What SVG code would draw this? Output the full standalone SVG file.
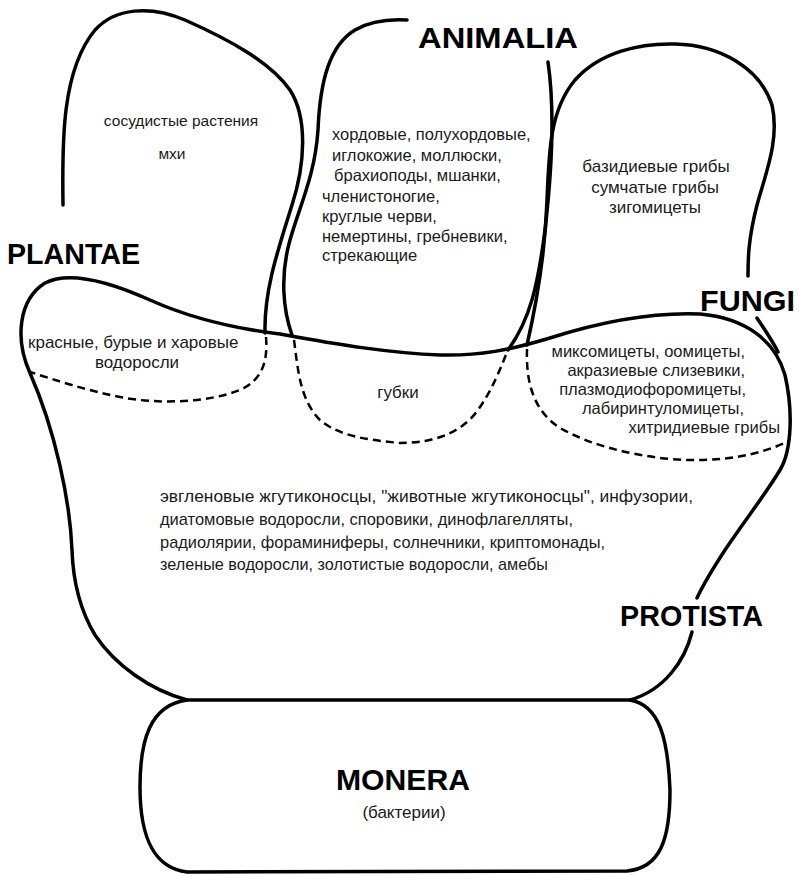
<svg xmlns="http://www.w3.org/2000/svg" width="799" height="875" viewBox="0 0 799 875">
<style>
.ln{fill:none;stroke:#000;stroke-width:3.5;stroke-linecap:round;stroke-linejoin:round}
.ds{fill:none;stroke:#000;stroke-width:2.5;stroke-dasharray:8 5}
.t{font-family:"Liberation Sans",Arial,sans-serif;font-size:17px;fill:#1a1a1a}
.s{font-size:15.5px}
.a{font-size:16.5px}
.f{font-size:16.5px}
.p{font-family:"Liberation Sans",Arial,sans-serif;font-size:17px;fill:#1a1a1a}
.lb{font-family:"Liberation Sans",Arial,sans-serif;font-size:30px;font-weight:bold;fill:#000}
</style>
<rect width="799" height="875" fill="#fff"/>
<g id="plantae">
<path class="ln" d="M63,205 C62,140 62,70 95,30 C115,8 150,5 185,20 C230,40 270,62 290,90 C308,118 305,165 292,205 C278,250 264,290 265,333"/>
<path class="ds" d="M266,337 C268,362 262,380 240,390 C210,402 160,405 120,397 C85,390 55,380 30,372"/>
<text class="lb" x="7" y="264" textLength="133" lengthAdjust="spacingAndGlyphs">PLANTAE</text>
<text class="t s" x="181" y="126" text-anchor="middle">сосудистые растения</text>
<text class="t s" x="172" y="159" text-anchor="middle">мхи</text>
<text class="t" x="28" y="348">красные, бурые и харовые</text>
<text class="t" x="137" y="368" text-anchor="middle">водоросли</text>
</g>
<g id="animalia">
<path class="ln" d="M292,335 C283,310 280,275 290,240 C300,205 315,175 318,130 C320,80 330,45 355,30 C372,20 390,19 407,20"/>
<path class="ln" d="M548,62 C555,110 552,170 545,230 C538,285 530,320 508,350"/>
<path class="ds" d="M294,340 C298,370 300,400 320,420 C340,437 370,440 400,443 C430,443 460,435 478,410 C492,390 500,370 507,352"/>
<text class="lb" x="418" y="48" textLength="160" lengthAdjust="spacingAndGlyphs">ANIMALIA</text>
<text class="t a" x="332" y="140">хордовые, полухордовые,</text>
<text class="t a" x="332" y="161">иглокожие, моллюски,</text>
<text class="t a" x="334" y="181">брахиоподы, мшанки,</text>
<text class="t a" x="322" y="202">членистоногие,</text>
<text class="t a" x="322" y="222">круглые черви,</text>
<text class="t a" x="322" y="242">немертины, гребневики,</text>
<text class="t a" x="322" y="261">стрекающие</text>
<text class="t" x="398" y="398" text-anchor="middle">губки</text>
</g>
<g id="fungi">
<path class="ln" d="M527,345 C535,310 545,260 547,200 C549,150 550,110 575,80 C600,52 640,43 675,44 C720,45 760,68 772,105 C780,140 765,175 757,205 C748,240 748,260 748,276"/>
<path class="ln" d="M757,318 C765,330 772,340 778,352"/>
<path class="ds" d="M527,349 C526,380 532,410 560,428 C590,445 630,455 670,459 C720,463 760,455 789,441"/>
<text class="lb" x="700" y="311" textLength="95" lengthAdjust="spacingAndGlyphs">FUNGI</text>
<text class="t" x="656" y="172" text-anchor="middle">базидиевые грибы</text>
<text class="t" x="655" y="193" text-anchor="middle">сумчатые грибы</text>
<text class="t" x="655" y="213" text-anchor="middle">зигомицеты</text>
<text class="t f" x="745" y="357" text-anchor="end">миксомицеты, оомицеты,</text>
<text class="t f" x="745" y="376" text-anchor="end">акразиевые слизевики,</text>
<text class="t f" x="746" y="395" text-anchor="end">плазмодиофоромицеты,</text>
<text class="t f" x="744" y="414" text-anchor="end">лабиринтуломицеты,</text>
<text class="t f" x="780" y="433" text-anchor="end">хитридиевые грибы</text>
</g>
<g id="protista">
<path class="ln" d="M187,700 C150,690 115,665 95,635 C80,610 73,580 72,550 C70,500 55,430 30,373 C15,340 18,300 45,283 C70,270 110,282 150,300 C190,318 230,328 280,334 C340,345 390,353 440,355 C480,356 510,350 550,338 C600,322 650,312 700,314 C745,318 775,340 785,375 C793,410 792,450 780,470 C765,495 745,520 725,550 C712,570 703,585 697,598"/>
<path class="ln" d="M692,632 C685,660 665,690 630,700"/>
<text class="lb" x="620" y="626" textLength="143" lengthAdjust="spacingAndGlyphs">PROTISTA</text>
<text class="p" x="160" y="502" textLength="533" lengthAdjust="spacingAndGlyphs">эвгленовые жгутиконосцы, "животные жгутиконосцы", инфузории,</text>
<text class="p" x="160" y="525" textLength="413" lengthAdjust="spacingAndGlyphs">диатомовые водоросли, споровики, динофлагелляты,</text>
<text class="p" x="160" y="548" textLength="445" lengthAdjust="spacingAndGlyphs">радиолярии, фораминиферы, солнечники, криптомонады,</text>
<text class="p" x="160" y="570" textLength="388" lengthAdjust="spacingAndGlyphs">зеленые водоросли, золотистые водоросли, амебы</text>
</g>
<g id="monera">
<path class="ln" d="M187,700 L630,700 C660,705 668,740 670,790 C670,840 660,868 627,871 L187,872 C155,868 140,840 140,787 C140,740 150,705 187,700 Z"/>
<text class="lb" x="403" y="790" text-anchor="middle" textLength="134" lengthAdjust="spacingAndGlyphs">MONERA</text>
<text class="t" x="404" y="818" text-anchor="middle">(бактерии)</text>
</g>
</svg>
